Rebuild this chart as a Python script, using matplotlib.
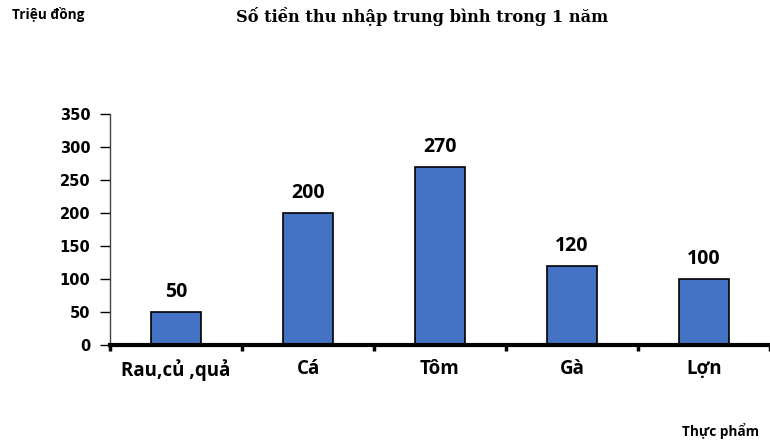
import matplotlib
matplotlib.use("Agg")
import matplotlib.pyplot as plt
import numpy as np

categories = ["Rau,củ ,quả", "Cá", "Tôm", "Gà", "Lợn"]
values = [50, 200, 270, 120, 100]
yticks = [0, 50, 100, 150, 200, 250, 300, 350]

fig = plt.figure(figsize=(7.7, 4.41), dpi=100)
ax = fig.add_axes([110/770, 1-345/441, 1-110/770, (345-114)/441])

x = np.arange(len(categories))
ax.bar(x, values, width=0.38, color="#4472C4", edgecolor="black", linewidth=1.2, zorder=2)
for xi, v in zip(x, values):
    ax.annotate(str(v), (xi, v), xytext=(0, 7), textcoords="offset points",
                ha="center", va="bottom", fontsize=14, fontweight="bold", family="Open Sans")

ax.set_xlim(-0.5, len(categories) - 0.5)
ax.set_ylim(0, 350)
ax.set_yticks(yticks)
ax.set_yticklabels([str(t) for t in yticks], fontsize=10.5, fontweight="bold", family="DejaVu Sans")
ax.set_xticks(x)
ax.set_xticklabels(categories, fontsize=13.5, fontweight="bold", family="Open Sans")
ax.set_xticks(np.arange(-0.5, len(categories)), minor=True)
ax.tick_params(axis="x", which="major", length=0, pad=10)
ax.tick_params(axis="x", which="minor", length=4, width=2.5, direction="out")
ax.tick_params(axis="y", length=7, width=1, direction="out", pad=7)

for s in ["top", "right"]:
    ax.spines[s].set_visible(False)
ax.spines["left"].set_linewidth(1)
ax.spines["left"].set_color("#444444")
ax.spines["bottom"].set_linewidth(3)
ax.spines["bottom"].set_color("black")

fig.text(422/770, 1-17/441, "Số tiền thu nhập trung bình trong 1 năm", ha="center", va="center",
         fontsize=11.7, fontweight="bold", family="DejaVu Serif")
fig.text(12/770, 1-14/441, "Triệu đồng", ha="left", va="center", fontsize=9.8,
         fontweight="bold", family="Open Sans")
fig.text(682/770, 1-431/441, "Thực phẩm", ha="left", va="center", fontsize=9.8,
         fontweight="bold", family="Open Sans")

fig.savefig("out.png", dpi=100)
